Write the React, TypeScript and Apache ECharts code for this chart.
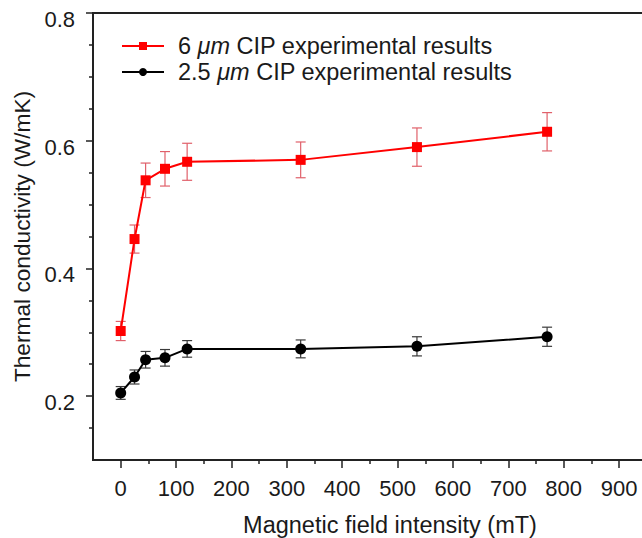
import React, { useEffect, useRef } from "react";
import * as echarts from "echarts";

const fieldValues = [0, 25, 45, 80, 120, 325, 535, 770];
const cip6Values = [0.302, 0.446, 0.538, 0.556, 0.567, 0.570, 0.590, 0.614];
const cip6Errors = [0.015, 0.022, 0.027, 0.027, 0.029, 0.028, 0.030, 0.030];
const cip25Values = [0.205, 0.230, 0.257, 0.260, 0.274, 0.274, 0.278, 0.293];
const cip25Errors = [0.010, 0.011, 0.013, 0.013, 0.013, 0.014, 0.015, 0.015];

const xMajorTicks = [0, 100, 200, 300, 400, 500, 600, 700, 800, 900];
const xMinorTicks = [50, 150, 250, 350, 450, 550, 650, 750, 850];
const yMajorTicks = [0.2, 0.4, 0.6, 0.8];
const yMinorTicks = [0.15, 0.25, 0.3, 0.35, 0.45, 0.5, 0.55, 0.65, 0.7, 0.75];

const S6 = "6 μm CIP experimental results";
const S25 = "2.5 μm CIP experimental results";

const FONT = "'Liberation Sans', Arial, sans-serif";
const TXT = "#1a1a1a";

function errRender(color: string) {
  return (params: any, api: any) => {
    const x = api.value(0);
    const lo = api.value(1);
    const hi = api.value(2);
    const pLo = api.coord([x, lo]);
    const pHi = api.coord([x, hi]);
    const hw = 5;
    const style = { stroke: color, lineWidth: 1.2 };
    return {
      type: "group",
      children: [
        { type: "line", shape: { x1: pLo[0], y1: pLo[1], x2: pHi[0], y2: pHi[1] }, style },
        { type: "line", shape: { x1: pLo[0] - hw, y1: pLo[1], x2: pLo[0] + hw, y2: pLo[1] }, style },
        { type: "line", shape: { x1: pHi[0] - hw, y1: pHi[1], x2: pHi[0] + hw, y2: pHi[1] }, style },
      ],
    };
  };
}

export default function App() {
  const ref = useRef<HTMLDivElement>(null);
  useEffect(() => {
    if (!ref.current) return;
    const chart = echarts.init(ref.current, null, { renderer: "svg" });
    const line6 = fieldValues.map((x, i) => [x, cip6Values[i]]);
    const line25 = fieldValues.map((x, i) => [x, cip25Values[i]]);
    const err6 = fieldValues.map((x, i) => [x, cip6Values[i] - cip6Errors[i], cip6Values[i] + cip6Errors[i]]);
    const err25 = fieldValues.map((x, i) => [x, cip25Values[i] - cip25Errors[i], cip25Values[i] + cip25Errors[i]]);
    const xMin = -50;
    const xMax = 945;
    const yMin = 0.1;
    const yMax = 0.8;
    chart.setOption({
      animation: false,
      backgroundColor: "#fff",
      textStyle: { fontFamily: FONT },
      grid: {
        left: 93,
        top: 13,
        right: -2,
        bottom: 78,
        show: true,
        borderColor: "#222",
        borderWidth: 2,
        containLabel: false,
        outerBoundsMode: "none",
      },
      legend: {
        orient: "vertical",
        left: 121,
        top: 34,
        padding: 0,
        itemWidth: 42,
        itemHeight: 10,
        itemGap: 2,
        data: [S6, S25],
        formatter: (name: string) =>
          name === S6
            ? "{p|6 }{i|μm}{n| CIP experimental results}"
            : "{p|2.5 }{i|μm}{n| CIP experimental results}",
        textStyle: {
          fontSize: 23.5,
          color: TXT,
          fontFamily: FONT,
          rich: {
            p: { fontSize: 23.5, fontFamily: FONT, color: TXT, padding: [0, 0, 0, 9], lineHeight: 26 },
            i: { fontSize: 23.5, fontFamily: FONT, color: TXT, fontStyle: "italic", lineHeight: 26 },
            n: { fontSize: 23.5, fontFamily: FONT, color: TXT, lineHeight: 26 },
          },
        },
      },
      xAxis: [
        {
          type: "value",
          min: xMin,
          max: xMax,
          position: "bottom",
          name: "Magnetic field intensity (mT)",
          nameLocation: "middle",
          nameGap: 53,
          nameTextStyle: { fontSize: 23.5, color: TXT, fontFamily: FONT, padding: [0, 0, 0, 43] },
          axisLine: { show: true, onZero: false, lineStyle: { color: "#222", width: 2 } },
          axisTick: { show: true, inside: false, length: 8, customValues: xMajorTicks, lineStyle: { color: "#222", width: 1.5 } },
          axisLabel: { show: true, margin: 17, customValues: xMajorTicks, fontSize: 22, color: TXT, fontFamily: FONT },
          splitLine: { show: false },
        },
        {
          type: "value",
          min: xMin,
          max: xMax,
          position: "bottom",
          axisLine: { show: false, onZero: false },
          axisTick: { show: true, inside: false, length: 4, customValues: xMinorTicks, lineStyle: { color: "#222", width: 1.5 } },
          axisLabel: { show: false },
          splitLine: { show: false },
        },
      ],
      yAxis: [
        {
          type: "value",
          min: yMin,
          max: yMax,
          position: "left",
          name: "Thermal conductivity (W/mK)",
          nameLocation: "middle",
          nameGap: 60,
          nameTextStyle: { fontSize: 22.7, color: TXT, fontFamily: FONT },
          axisLine: { show: true, onZero: false, lineStyle: { color: "#222", width: 2 } },
          axisTick: { show: true, inside: false, length: 7, customValues: yMajorTicks, lineStyle: { color: "#222", width: 1.5 } },
          axisLabel: {
            show: true,
            margin: 18,
            customValues: yMajorTicks,
            fontSize: 22,
            color: TXT,
            fontFamily: FONT,
            formatter: (v: number) => "{s| }\n{a|" + v.toFixed(1) + "}",
            rich: {
              s: { fontSize: 8, lineHeight: 13 },
              a: { fontSize: 22, lineHeight: 22, color: TXT, fontFamily: FONT },
            },
          },
          splitLine: { show: false },
        },
        {
          type: "value",
          min: yMin,
          max: yMax,
          position: "left",
          axisLine: { show: false, onZero: false },
          axisTick: { show: true, inside: false, length: 4, customValues: yMinorTicks, lineStyle: { color: "#222", width: 1.5 } },
          axisLabel: { show: false },
          splitLine: { show: false },
        },
      ],
      series: [
        {
          name: "err6",
          type: "custom",
          xAxisIndex: 0,
          yAxisIndex: 0,
          renderItem: errRender("#e0606a"),
          data: err6,
          encode: { x: 0, y: [1, 2] },
          z: 1,
          silent: true,
        },
        {
          name: "err25",
          type: "custom",
          xAxisIndex: 0,
          yAxisIndex: 0,
          renderItem: errRender("#3a3a3a"),
          data: err25,
          encode: { x: 0, y: [1, 2] },
          z: 1,
          silent: true,
        },
        {
          name: S6,
          type: "line",
          xAxisIndex: 0,
          yAxisIndex: 0,
          data: line6,
          symbol: "rect",
          symbolSize: 10,
          lineStyle: { color: "#ff0000", width: 2 },
          itemStyle: { color: "#ff0000" },
          z: 3,
        },
        {
          name: S25,
          type: "line",
          xAxisIndex: 0,
          yAxisIndex: 0,
          data: line25,
          symbol: "circle",
          symbolSize: 11,
          lineStyle: { color: "#000000", width: 2 },
          itemStyle: { color: "#000000" },
          z: 3,
        },
      ],
    });
    return () => chart.dispose();
  }, []);
  return (
    <div
      ref={ref}
      style={{ position: "fixed", left: 0, top: 0, width: 642, height: 538, background: "#fff" }}
    />
  );
}
